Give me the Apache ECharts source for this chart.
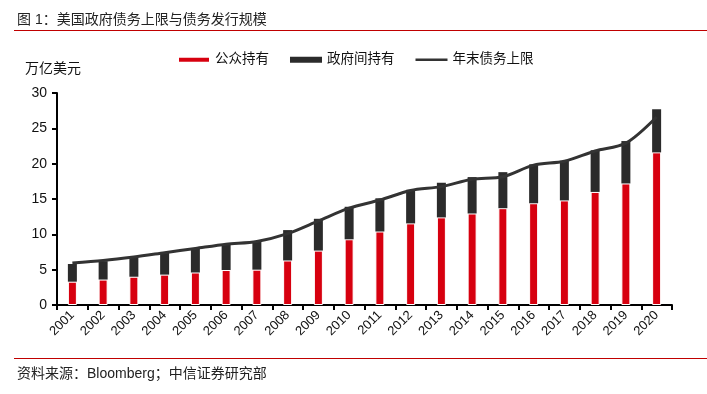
<!DOCTYPE html>
<html>
<head>
<meta charset="utf-8">
<script src="https://cdn.jsdelivr.net/npm/echarts@6/dist/echarts.min.js"></script>
<style>
html,body{margin:0;padding:0;background:#fff;}
#c{width:707px;height:394px;}
</style>
</head>
<body>
<div id="c"></div>
<script>
var years = ['2001','2002','2003','2004','2005','2006','2007','2008','2009','2010','2011','2012','2013','2014','2015','2016','2017','2018','2019','2020'];
var publicHeld = [3.3,3.6,4.0,4.3,4.6,4.95,5.0,6.3,7.7,9.3,10.4,11.55,12.4,12.95,13.7,14.4,14.8,16.0,17.2,21.6];
var totalDebt = [5.8,6.2,6.7,7.4,8.0,8.5,9.05,10.6,12.2,13.9,15.1,16.3,17.3,18.1,18.8,19.9,20.4,21.9,23.2,27.7];
var intragov = totalDebt.map(function(t,i){ return +(t - publicHeld[i]).toFixed(2); });
var debtLimit = [5.95,6.3,6.8,7.4,8.0,8.6,9.0,10.1,11.9,13.7,14.85,16.2,16.75,17.8,18.15,19.8,20.35,21.8,22.9,26.6];
var yTicks = [0,5,10,15,20,25,30];

var font = 'Arial, "Liberation Sans", "Noto Sans CJK SC", sans-serif';
var chart = echarts.init(document.getElementById('c'));
chart.setOption({
  animation: false,
  textStyle: {fontFamily: font},
  graphic: [
    {type:'text', left:17, top:13, style:{text:'图 1：美国政府债务上限与债务发行规模', font:'14px ' + font, fill:'#222'}},
    {type:'rect', shape:{x:14, y:30, width:693, height:1}, style:{fill:'#c00000'}},
    {type:'rect', shape:{x:14, y:358, width:693, height:1}, style:{fill:'#c00000'}},
    {type:'text', left:17, top:367, style:{text:'资料来源：Bloomberg；中信证券研究部', font:'14px ' + font, fill:'#222'}}
  ],
  legend: {
    left: 177, top: 53, padding: 0,
    itemWidth: 32, itemHeight: 6, itemGap: 21,
    symbolKeepAspect: true,
    textStyle: {fontSize: 13.5, color:'#111', fontFamily: font},
    data: [
      {name:'公众持有', icon:'rect'},
      {name:'政府间持有', icon:'rect'},
      {name:'年末债务上限', icon:'path://M0,0L35,0L35,3L0,3Z'}
    ]
  },
  grid: {left:57, right:35, top:93, bottom:89, containLabel:false},
  xAxis: {
    type:'category', data: years, boundaryGap:true,
    axisLine:{lineStyle:{color:'#000', width:2}},
    axisTick:{show:true, alignWithLabel:false, length:5, lineStyle:{color:'#000', width:2}},
    axisLabel:{rotate:45, color:'#111', fontSize:13, margin:8, interval:0}
  },
  yAxis: {
    type:'value', min:0, max:30, interval:5,
    name:'万亿美元', nameLocation:'end', nameGap:17,
    nameTextStyle:{color:'#111', fontSize:14, align:'right', padding:[0,-24,0,0]},
    axisLine:{show:true, lineStyle:{color:'#000', width:2}},
    axisTick:{show:true, length:5, lineStyle:{color:'#000', width:2}},
    splitLine:{show:false},
    axisLabel:{color:'#111', fontSize:14, margin:10}
  },
  series: [
    {name:'公众持有', type:'bar', stack:'d', barWidth:9, data: publicHeld,
     itemStyle:{color:'#d7000f', borderColor:'#fff', borderWidth:1}},
    {name:'政府间持有', type:'bar', stack:'d', barWidth:9, data: intragov,
     itemStyle:{color:'#2b2b2b'}},
    {name:'年末债务上限', type:'line', data: debtLimit, smooth:0.3, symbol:'none',
     lineStyle:{color:'#333', width:3}, itemStyle:{color:'#333'}, z:5}
  ]
});
</script>
</body>
</html>
